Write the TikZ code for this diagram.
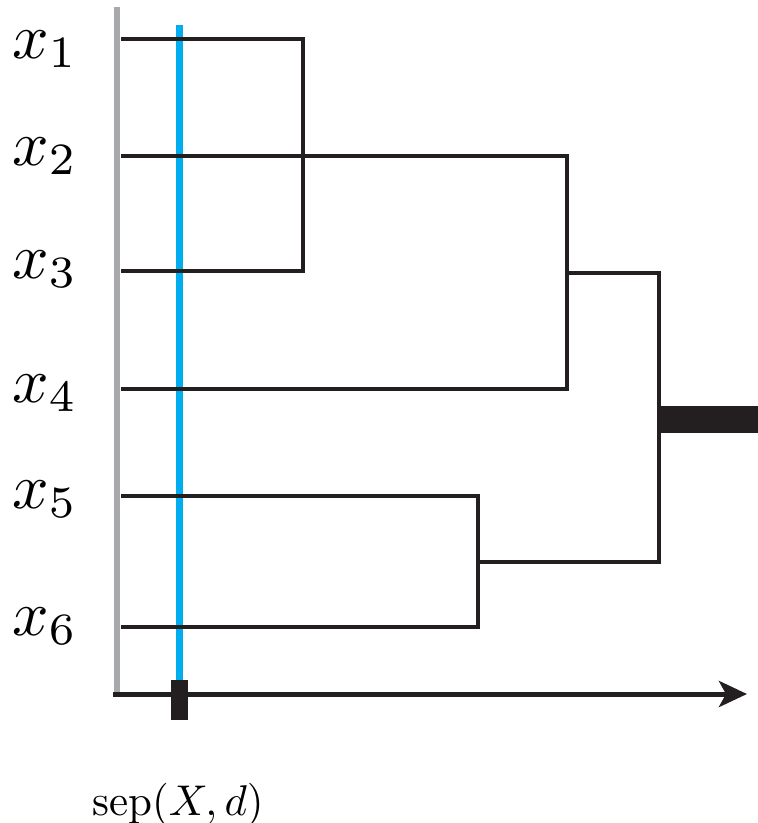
\documentclass[tikz,border=0pt]{standalone}
\usepackage{graphicx}
\usetikzlibrary{arrows.meta}
\definecolor{axgray}{HTML}{A7A9AC}
\definecolor{sepblue}{HTML}{00AEEF}
\definecolor{ink}{HTML}{231F20}
\newcommand{\leaftext}[1]{\scalebox{6.4}{$x_{#1}$}}
\begin{document}
\begin{tikzpicture}[x=1pt,y=-1pt,
  dend/.style={draw=ink,line width=4pt,line join=miter},
  leaflabel/.style={anchor=base west,inner sep=0pt},
]
\useasboundingbox (0,0) rectangle (758,823);
% leaves and merge points
\coordinate (l1) at (121,39);
\coordinate (l2) at (121,156);
\coordinate (l3) at (121,271);
\coordinate (l4) at (121,389);
\coordinate (l5) at (121,496);
\coordinate (l6) at (121,627);
\coordinate (a) at (303,155);
\coordinate (b) at (567,273);
\coordinate (c) at (478,562);
\coordinate (r) at (659,419);
\coordinate (rout) at (758,419);
\coordinate (gtop) at (117,7);
\coordinate (gbot) at (117,697);
\coordinate (ax0) at (113,694);
\coordinate (ax1) at (747,694);
\coordinate (btop) at (179.5,25);
\coordinate (bbot) at (179.5,690);
% gray axis
\draw[axgray,line width=6.5pt] (gtop) -- (gbot);
% blue cut line
\draw[sepblue,line width=7pt] (btop) -- (bbot);
% dendrogram
\draw[dend] (l1) -| (a) |- (l3);
\draw[dend] (l2) -| (b) |- (l4);
\draw[dend] (l5) -| (c) |- (l6);
\draw[dend] (b) -| (r) |- (c);
\draw[ink,line width=27pt] (r) -- (rout);
% horizontal axis
\draw[ink,line width=5pt,-{Stealth[length=28pt,width=26pt,inset=7pt]}] (ax0) -- (ax1);
% tick
\node[fill=ink,minimum width=17pt,minimum height=40pt,inner sep=0pt] (tick) at (179.5,700) {};
% labels
\node[leaflabel] (t1) at (12,58) {\leaftext{1}};
\node[leaflabel] (t2) at (12,165) {\leaftext{2}};
\node[leaflabel] (t3) at (12,278) {\leaftext{3}};
\node[leaflabel] (t4) at (12,402) {\leaftext{4}};
\node[leaflabel] (t5) at (12,508) {\leaftext{5}};
\node[leaflabel] (t6) at (12,635) {\leaftext{6}};
\node[leaflabel] (sep) at (92,815) {\scalebox{4.3}{$\mathrm{sep}(X,d)$}};
\end{tikzpicture}
\end{document}
